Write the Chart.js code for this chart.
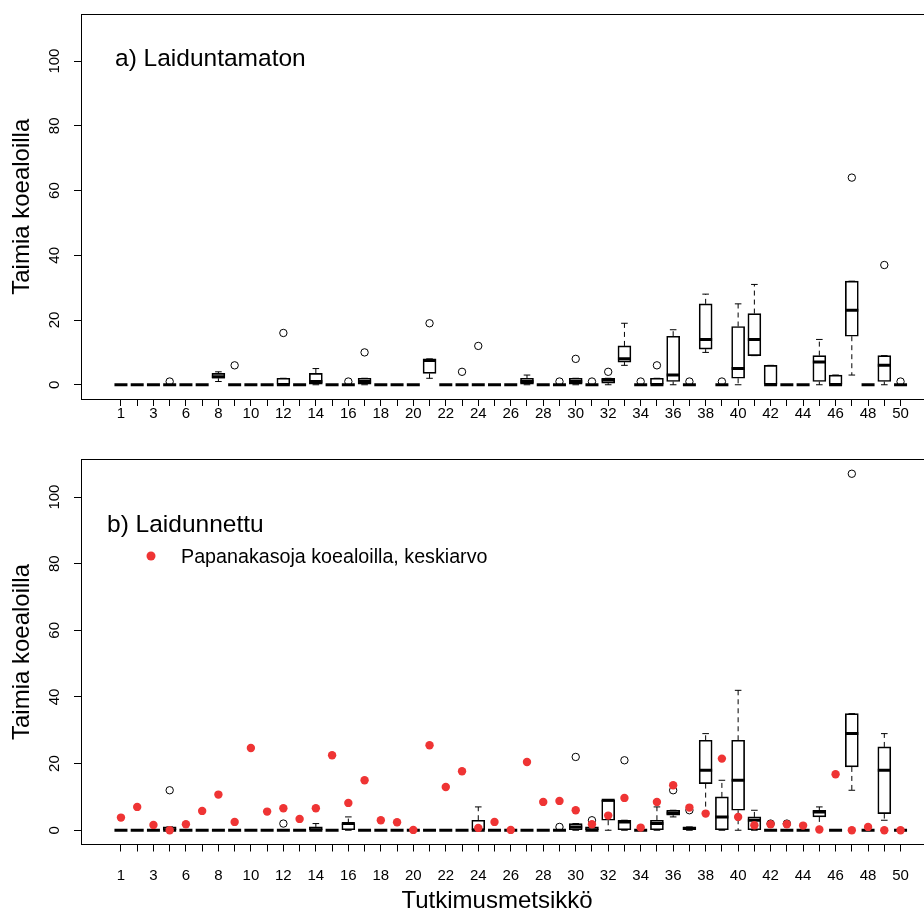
<!DOCTYPE html>
<html>
<head>
<meta charset="utf-8">
<title>Taimia koealoilla</title>
<script src="https://cdn.jsdelivr.net/npm/chart.js@4.4.0/dist/chart.umd.min.js"></script>
<style>
  html, body { margin: 0; padding: 0; background: #fff; overflow: hidden; }
  #wrap { position: relative; width: 924px; height: 915px; overflow: hidden; }
  #chartA { position: absolute; left: 0; top: 0; }
  #chartB { position: absolute; left: 0; top: 445px; }
</style>
</head>
<body>
<div id="wrap">
  <canvas id="chartA" width="950" height="445"></canvas>
  <canvas id="chartB" width="950" height="470"></canvas>
</div>
<script>
      // site names (one is missing between 3 and 6)
      var categories = ['1', '2', '3', '4', '6', '7', '8', '9', '10', '11', '12', '13', '14', '15', '16', '17',
        '18', '19', '20', '21', '22', '23', '24', '25', '26', '27', '28', '29', '30', '31', '32', '33', '34',
        '35', '36', '37', '38', '39', '40', '41', '42', '43', '44', '45', '46', '47', '48', '49', '50'];
      var xTickLabels = ['1', '3', '6', '8', '10', '12', '14', '16', '18', '20', '22', '24', '26', '28', '30',
        '32', '34', '36', '38', '40', '42', '44', '46', '48', '50'];
      var yTicks = [0, 20, 40, 60, 80, 100];

      // a) Laiduntamaton
      var topLo = [0, 0, 0, 0, 0, 0, 1, 0, 0, 0, 0, 0, 0, 0, 0, 0, 0, 0, 0, 2, 0, 0, 0, 0, 0,
        0, 0, 0, 0, 0, 0, 6, 0, 0, 0, 0, 10, 0, 0, 9, 0, 0, 0, 0, 0, 3, 0, 0, 0];
      var topQ1 = [0, 0, 0, 0, 0, 0, 2, 0, 0, 0, 0, 0, 0, 0, 0, 0, 0, 0, 0, 3.5, 0, 0, 0, 0, 0,
        0, 0, 0, 0, 0, 0.5, 7, 0, 0, 1, 0, 11, 0, 2, 9, 0, 0, 0, 1, 0, 15, 0, 1, 0];
      var topMed = [0, 0, 0, 0, 0, 0, 2.5, 0, 0, 0, 0, 0, 1, 0, 0, 1, 0, 0, 0, 7.5, 0, 0, 0, 0, 0,
        1, 0, 0, 1, 0, 1.5, 8, 0, 0, 3, 0, 14, 0, 5, 14, 0, 0, 0, 7, 0, 23, 0, 6, 0];
      var topQ3 = [0, 0, 0, 0, 0, 0, 3.5, 0, 0, 0, 2, 0, 3.5, 0, 0, 2, 0, 0, 0, 8, 0, 0, 0, 0, 0,
        2, 0, 0, 2, 0, 2, 12, 0, 2, 15, 0, 25, 0, 18, 22, 6, 0, 0, 9, 3, 32, 0, 9, 0];
      var topHi = [0, 0, 0, 0, 0, 0, 4, 0, 0, 0, 2, 0, 5, 0, 0, 2, 0, 0, 0, 8, 0, 0, 0, 0, 0,
        3, 0, 0, 2, 0, 2, 19, 0, 2, 17, 0, 28, 0, 25, 31, 6, 0, 0, 14, 3, 32, 0, 9, 0];
      var topOutliers = [[], [], [], [1], [], [], [], [6], [], [], [16], [], [], [], [1], [10], [], [], [], [19],
        [], [4], [12], [], [], [], [], [1], [8], [1], [4], [], [1], [6], [], [1], [], [1], [], [],
        [], [], [], [], [], [64], [], [37], [1]];

      // b) Laidunnettu
      var botLo = [0, 0, 0, 0, 0, 0, 0, 0, 0, 0, 0, 0, 0, 0, 0, 0, 0, 0, 0, 0, 0, 0, 0, 0, 0,
        0, 0, 0, 0, 0, 0, 0, 0, 0, 4, 0, 5, 0, 0, 0, 0, 0, 0, 0, 0, 12, 0, 3, 0];
      var botQ1 = [0, 0, 0, 0, 0, 0, 0, 0, 0, 0, 0, 0, 0, 0, 0, 0, 0, 0, 0, 0, 0, 0, 0, 0, 0,
        0, 0, 0, 0, 0, 3, 0, 0, 0, 4.5, 0, 14, 0, 6, 0, 0, 0, 0, 4, 0, 19, 0, 5, 0];
      var botMed = [0, 0, 0, 0, 0, 0, 0, 0, 0, 0, 0, 0, 0, 0, 2, 0, 0, 0, 0, 0, 0, 0, 0, 0, 0,
        0, 0, 0, 1, 0, 9, 2.5, 0, 2, 5.2, 0.5, 18, 4, 15, 3, 0, 0, 0, 5.5, 0, 29, 0, 18, 0];
      var botQ3 = [0, 0, 0, 1, 0, 0, 0, 0, 0, 0, 0, 0, 1, 0, 2, 0, 0, 0, 0, 0, 0, 0, 3, 0, 0,
        0, 0, 0, 2, 1, 9, 3, 0, 3, 6, 1, 27, 10, 27, 4, 0, 0, 0, 6, 0, 35, 0, 25, 0];
      var botHi = [0, 0, 0, 1, 0, 0, 0, 0, 0, 0, 0, 0, 2, 0, 4, 0, 0, 0, 0, 0, 0, 0, 7, 0, 0,
        0, 0, 0, 2, 1, 9, 3, 0, 7, 6, 1, 29, 15, 42, 6, 0, 0, 0, 7, 0, 35, 0, 29, 0];
      var botOutliers = [[], [], [], [12], [], [], [], [], [], [], [2], [], [], [], [], [], [], [], [], [],
        [], [], [], [], [], [], [], [1], [22], [3], [], [21], [], [], [12], [6], [], [], [], [],
        [2], [2], [], [], [], [107], [], [], []];
      // Papanakasoja koealoilla, keskiarvo
      var pellets = [3.8, 7.0, 1.6, 0, 1.8, 5.8, 10.7, 2.5, 24.7, 5.6, 6.6, 3.4, 6.6, 22.5, 8.2, 15.0, 3.0,
        2.4, 0.1, 25.5, 13.0, 17.7, 0.7, 2.5, 0.1, 20.5, 8.5, 8.8, 6.0, 1.8, 4.4, 9.7, 0.8, 8.5, 13.5,
        6.8, 5.0, 21.5, 4.0, 1.5, 1.8, 1.8, 1.4, 0.2, 16.8, 0, 1.0, 0, 0];

      var FONT = "'Liberation Sans', Arial, sans-serif";
      var RED = '#ef3434';

      function boxplotSets(lo, q1, med, q3, hi, outliers) {
        var boxes = [], medians = [], caps = [], whiskers = [], outs = [];
        categories.forEach(function (c, i) {
          var x = i + 1;
          if (q3[i] > q1[i]) {
            boxes.push({x: x, y: [q1[i], q3[i]]});
            caps.push({x: x, y: hi[i]}, {x: x, y: lo[i]});
          }
          medians.push({x: x, y: med[i]});
          if (hi[i] > q3[i]) whiskers.push({x: x, y: q3[i]}, {x: x, y: hi[i]}, {x: x, y: null});
          if (lo[i] < q1[i]) whiskers.push({x: x, y: q1[i]}, {x: x, y: lo[i]}, {x: x, y: null});
          outliers[i].forEach(function (v) { outs.push({x: x, y: v}); });
        });
        return [
          {type: 'bar', data: boxes, order: 6, backgroundColor: 'rgba(0,0,0,0)', borderColor: '#000',
            borderWidth: 1, borderSkipped: false, barThickness: 13},
          {type: 'line', data: whiskers, order: 5, borderColor: '#000', borderWidth: 1, borderDash: [5, 4],
            pointRadius: 0, spanGaps: false, fill: false, tension: 0},
          {type: 'scatter', data: caps, order: 4, pointStyle: 'line', radius: 3.3, borderWidth: 1, borderColor: '#000'},
          {type: 'scatter', data: medians, order: 3, pointStyle: 'line', radius: 6.5, borderWidth: 3, borderColor: '#000'},
          {type: 'scatter', data: outs, order: 2, pointStyle: 'circle', radius: 3.7, borderWidth: 1,
            borderColor: '#000', backgroundColor: 'rgba(0,0,0,0)'}
        ];
      }

      var framePlugin = {
        id: 'frame',
        afterDraw: function (chart, args, opts) {
          var a = chart.chartArea, ctx = chart.ctx;
          ctx.save();
          ctx.strokeStyle = '#000';
          ctx.lineWidth = 1;
          ctx.strokeRect(Math.floor(a.left) + 0.5, Math.floor(a.top) + 0.5,
            Math.round(a.right - a.left), Math.round(a.bottom - a.top));
          ctx.fillStyle = '#000';
          ctx.font = '24.5px ' + FONT;
          ctx.textBaseline = 'alphabetic';
          ctx.fillText(opts.label, opts.labelX, opts.labelY);
          if (opts.legend) {
            ctx.fillStyle = RED;
            ctx.beginPath();
            ctx.arc(151, 111, 4.5, 0, Math.PI * 2);
            ctx.fill();
            ctx.fillStyle = '#000';
            ctx.font = '19.7px ' + FONT;
            ctx.fillText(opts.legend, 181, 117.5);
          }
          if (opts.xTitle) {
            ctx.font = '24px ' + FONT;
            ctx.textAlign = 'center';
            ctx.textBaseline = 'middle';
            ctx.fillText(opts.xTitle, 497, 456);
          }
          ctx.restore();
        }
      };

      function makeOptions(o) {
        return {
          responsive: false,
          animation: false,
          events: [],
          layout: {padding: {top: o.top, right: 0.5, bottom: 0, left: 0}},
          plugins: {legend: {display: false}, tooltip: {enabled: false},
            frame: {label: o.label, labelX: o.labelX, labelY: o.labelY, legend: o.legend, xTitle: o.xTitle}},
          scales: {
            x: {
              type: 'linear', min: -1.46, max: 51.46, offset: false,
              afterBuildTicks: function (s) { s.ticks = categories.map(function (c, i) { return {value: i + 1}; }); },
              afterFit: function (s) { s.height = o.xHeight; },
              ticks: {autoSkip: false, maxRotation: 0, minRotation: 0, padding: o.xPad, color: '#000',
                font: {family: FONT, size: 15, lineHeight: 1},
                callback: function (v) {
                  var c = categories[v - 1];
                  return xTickLabels.indexOf(c) >= 0 ? c : '';
                }},
              grid: {offset: false, drawOnChartArea: false, drawTicks: true, tickLength: 7, color: '#000'},
              border: {display: false}
            },
            y: {
              type: 'linear', min: o.yMin, max: o.yMax, offset: false,
              afterBuildTicks: function (s) { s.ticks = yTicks.map(function (v) { return {value: v}; }); },
              afterFit: function (s) { s.width = 81; },
              ticks: {minRotation: 90, maxRotation: 90, crossAlign: 'center', padding: 7, color: '#000',
                font: {family: FONT, size: 15, lineHeight: 1}},
              grid: {offset: false, drawOnChartArea: false, drawTicks: true, tickLength: 7, color: '#000'},
              border: {display: false},
              title: {display: true, text: 'Taimia koealoilla', color: '#000',
                font: {family: FONT, size: 24, lineHeight: 1}, padding: {top: 10, bottom: 0}}
            }
          }
        };
      }

      var topChart = new Chart(document.getElementById('chartA').getContext('2d'), {
        type: 'scatter',
        data: {datasets: boxplotSets(topLo, topQ1, topMed, topQ3, topHi, topOutliers)},
        options: makeOptions({top: 12.5, xHeight: 46, xPad: 0, yMin: -4.4, yMax: 114.4,
          label: 'a) Laiduntamaton', labelX: 115, labelY: 65.5}),
        plugins: [framePlugin]
      });

      var botSets = boxplotSets(botLo, botQ1, botMed, botQ3, botHi, botOutliers);
      botSets.push({type: 'scatter', order: 1, pointStyle: 'circle', radius: 4.2, borderWidth: 0,
        backgroundColor: RED,
        data: pellets.map(function (v, i) { return {x: i + 1, y: v}; })});

      var bottomChart = new Chart(document.getElementById('chartB').getContext('2d'), {
        type: 'scatter',
        data: {datasets: botSets},
        options: makeOptions({top: 14, xHeight: 70.5, xPad: 17, yMin: -4.28, yMax: 111.28,
          label: 'b) Laidunnettu', labelX: 107, labelY: 87, legend: 'Papanakasoja koealoilla, keskiarvo',
          xTitle: 'Tutkimusmetsikkö'}),
        plugins: [framePlugin]
      });
</script>
</body>
</html>
